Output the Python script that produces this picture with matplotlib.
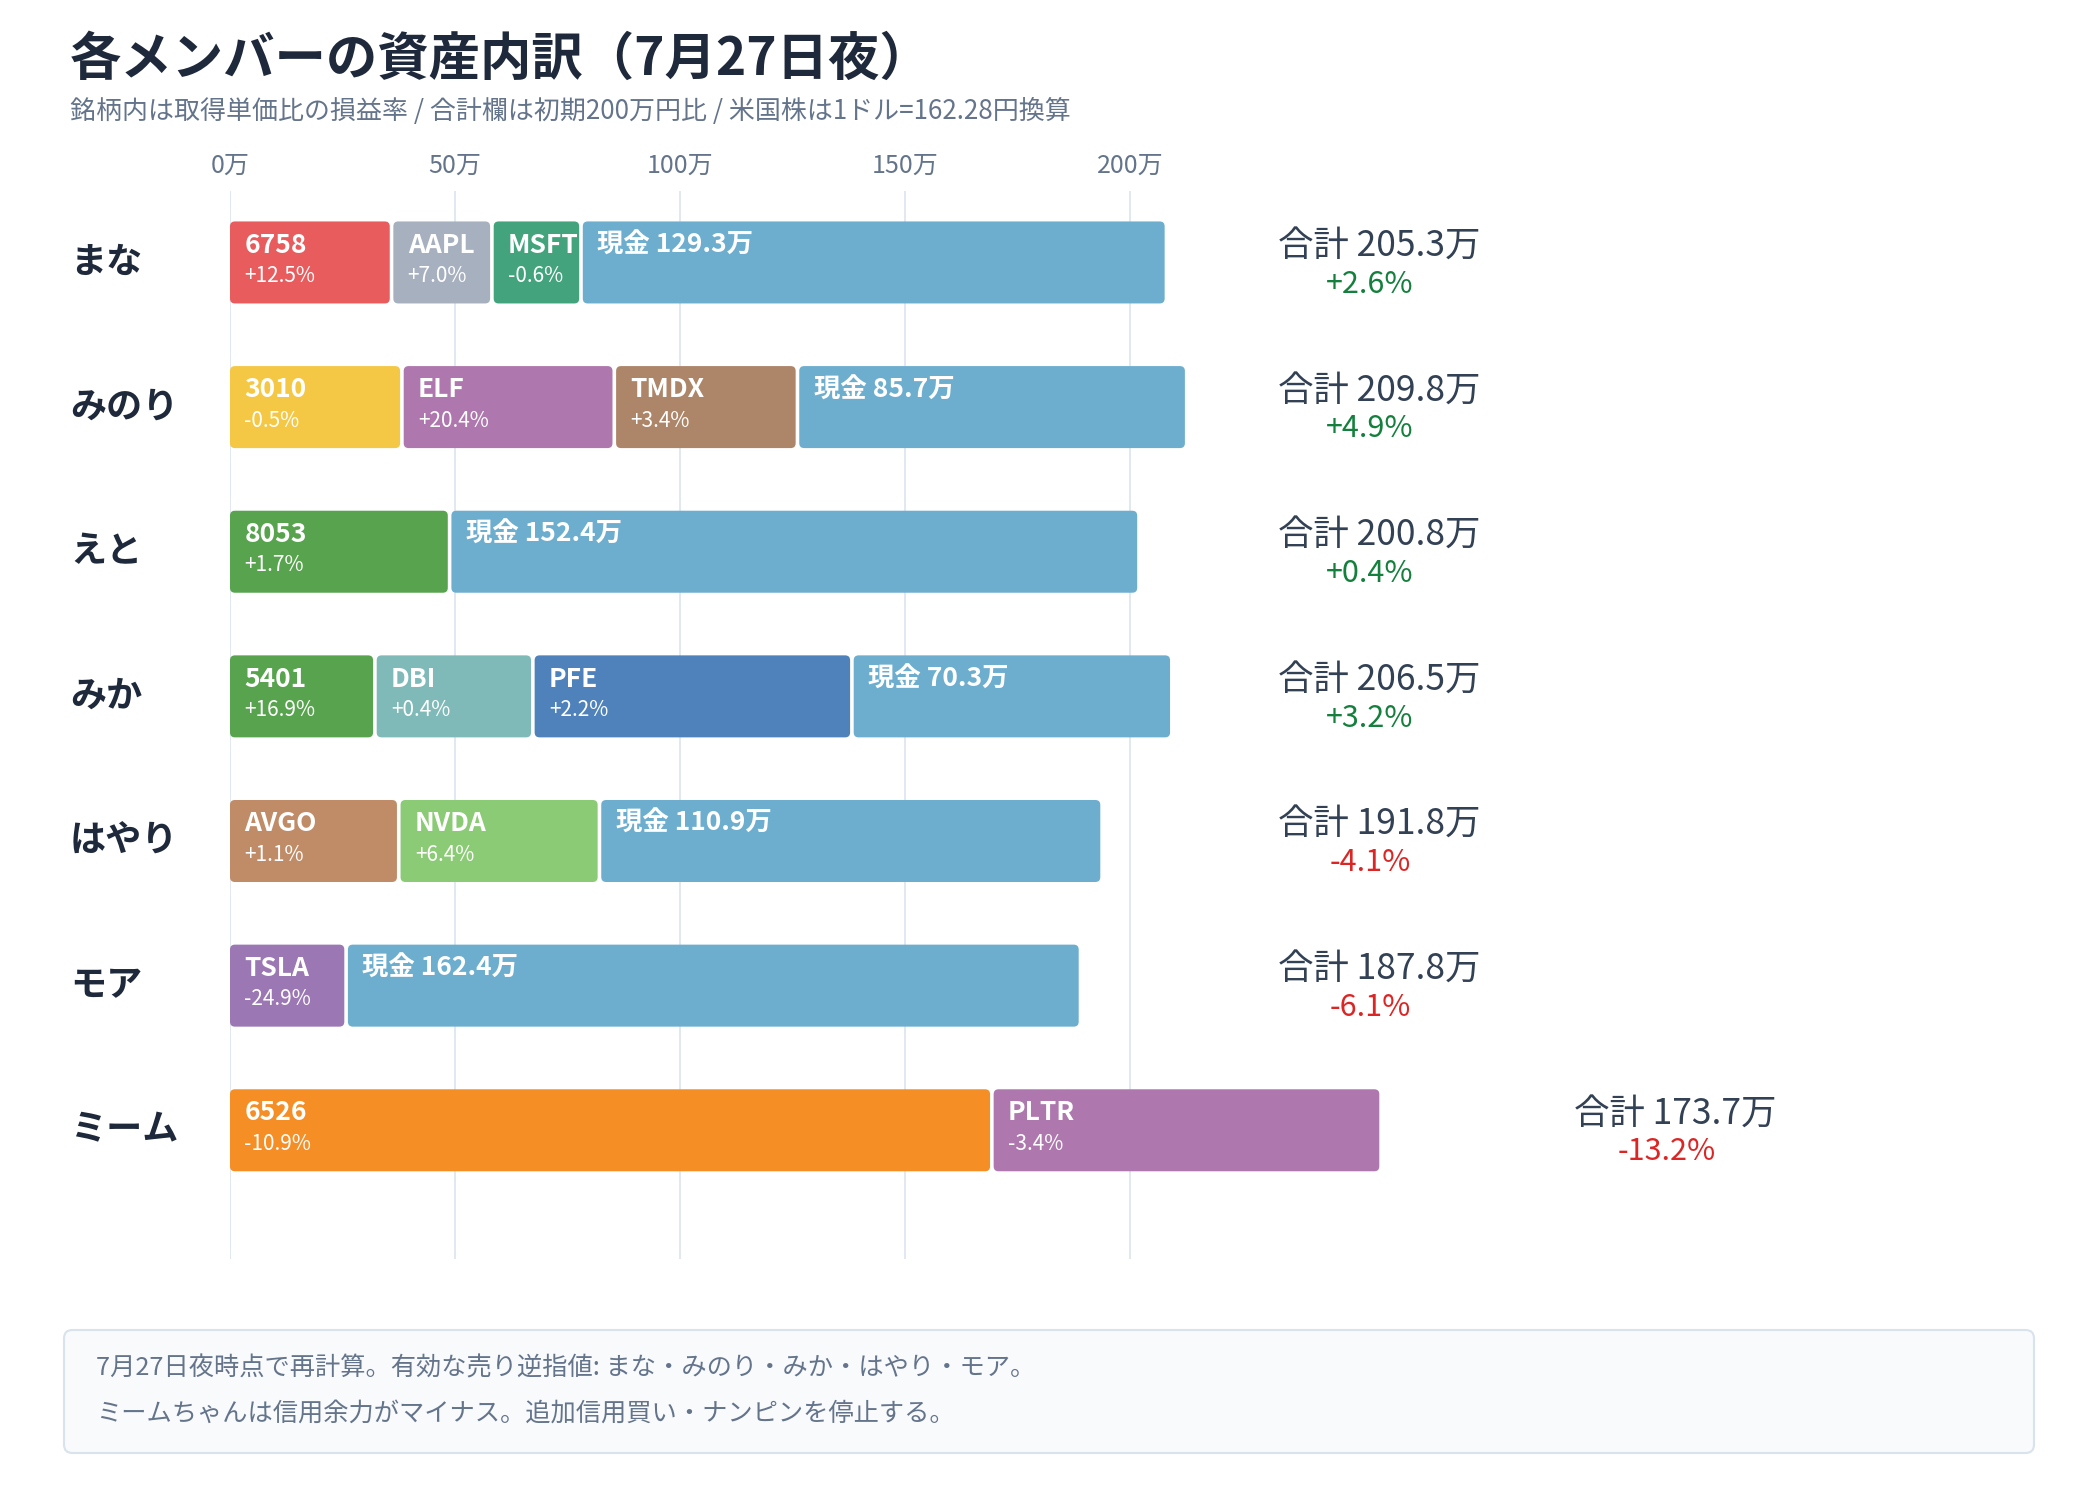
import matplotlib
matplotlib.use('Agg')
import matplotlib.pyplot as plt
import matplotlib.transforms as mtransforms
from matplotlib.patches import FancyBboxPatch

plt.rcParams['font.family'] = ['Noto Sans CJK JP', 'DejaVu Sans']

members = ['まな', 'みのり', 'えと', 'みか', 'はやり', 'モア', 'ミーム']
holdings = [
    ['6758', 'AAPL', 'MSFT', '現金'],
    ['3010', 'ELF', 'TMDX', '現金'],
    ['8053', '現金'],
    ['5401', 'DBI', 'PFE', '現金'],
    ['AVGO', 'NVDA', '現金'],
    ['TSLA', '現金'],
    ['6526', 'PLTR'],
]
# 万円
amounts = [
    [35.5, 21.5, 19.0, 129.3],
    [37.8, 46.4, 39.9, 85.7],
    [48.4, 152.4],
    [31.8, 34.3, 70.1, 70.3],
    [37.1, 43.8, 110.9],
    [25.4, 162.4],
    [168.9, 85.7],
]
returns = [
    ['+12.5%', '+7.0%', '-0.6%', None],
    ['-0.5%', '+20.4%', '+3.4%', None],
    ['+1.7%', None],
    ['+16.9%', '+0.4%', '+2.2%', None],
    ['+1.1%', '+6.4%', None],
    ['-24.9%', None],
    ['-10.9%', '-3.4%'],
]
totals = [205.3, 209.8, 200.8, 206.5, 191.8, 187.8, 173.7]
total_pct = ['+2.6%', '+4.9%', '+0.4%', '+3.2%', '-4.1%', '-6.1%', '-13.2%']
x_ticks = [0, 50, 100, 150, 200]

colors = {
    '6758': '#e85c5e', 'AAPL': '#a7b0bf', 'MSFT': '#42a37c',
    '3010': '#f4c844', 'ELF': '#ae78ae', 'TMDX': '#ad8568',
    '8053': '#58a44e', '5401': '#58a44e', 'DBI': '#7fbab8',
    'PFE': '#4f82bb', 'AVGO': '#c08c68', 'NVDA': '#8bcb76',
    'TSLA': '#9b77b3', '6526': '#f58e25', 'PLTR': '#ae78ae',
    '現金': '#6daecf',
}

W, H = 2100, 1510
fig = plt.figure(figsize=(W / 100, H / 100), dpi=100)
fig.patch.set_facecolor('white')

px_per_unit = 4.50
ax_left, ax_right = 230, 2034
ax_top, ax_bot = 191, 1259
ax = fig.add_axes([ax_left / W, 1 - ax_bot / H, (ax_right - ax_left) / W, (ax_bot - ax_top) / H])
ax.set_xlim(0, (ax_right - ax_left) / px_per_unit)
ax.set_ylim(6.89, -0.494)
for s in ax.spines.values():
    s.set_visible(False)
ax.set_xticks(x_ticks)
ax.set_xticklabels([f'{t}万' for t in x_ticks], fontsize=18, color='#64748b')
ax.tick_params(axis='x', top=True, bottom=False, labeltop=True, labelbottom=False, length=0, pad=9)
for lbl in ax.get_xticklabels():
    lbl.set_x(lbl.get_position()[0])
ax.set_yticks([])
ax.grid(axis='x', color='#e2e8f0', lw=1.4)
ax.set_axisbelow(True)

bar_h = 0.567
gap = 0.8
rx = 1.1
ry = 0.034
blend = mtransforms.blended_transform_factory(fig.transFigure, ax.transData)

for i, name in enumerate(members):
    ax.text(70 / W, i, name, transform=blend, fontsize=26, fontweight='bold',
            color='#1e293b', va='center', ha='left')
    x = 0
    for tk, v, r in zip(holdings[i], amounts[i], returns[i]):
        p = FancyBboxPatch((x, i - bar_h / 2), v, bar_h,
                           boxstyle=f'round,pad=0,rounding_size={rx}',
                           mutation_aspect=ry / rx,
                           fc=colors[tk], ec='none', zorder=2)
        ax.add_patch(p)
        label = f'現金 {v:.1f}万' if tk == '現金' else tk
        t1 = ax.text(x + 3.2, i - 0.12, label, fontsize=19, fontweight='bold',
                     color='white', va='center', ha='left', zorder=3)
        t1.set_clip_path(p)
        if r:
            t2 = ax.text(x + 3.2, i + 0.095, r, fontsize=15, color='white',
                         va='center', ha='left', zorder=3)
            t2.set_clip_path(p)
        x += v + gap
    bar_end = x
    tx = 255.3 if bar_end < 240 else bar_end + 65
    ax.text(tx, i - 0.11, f'合計 {totals[i]:.1f}万', fontsize=25.5, color='#334155',
            ha='center', va='center')
    pc = '#15803d' if total_pct[i].startswith('+') else '#dc2626'
    ax.text(tx - 2, i + 0.15, total_pct[i], fontsize=22, color=pc, ha='center', va='center')

fig.text(70 / W, 1 - 59 / H, '各メンバーの資産内訳（7月27日夜）', fontsize=37,
         fontweight='bold', color='#1e293b', va='center', ha='left')
fig.text(70 / W, 1 - 111 / H,
         '銘柄内は取得単価比の損益率 / 合計欄は初期200万円比 / 米国株は1ドル=162.28円換算',
         fontsize=18.7, color='#64748b', va='center', ha='left')

box = FancyBboxPatch((64 / W, 1 - 1453 / H), 1970 / W, 123 / H,
                     boxstyle='round,pad=0,rounding_size=0.004',
                     mutation_aspect=W / H, transform=fig.transFigure,
                     fc='#f8fafc', ec='#d9e3ee', lw=1.5)
fig.patches.append(box)
fig.text(96 / W, 1 - 1369 / H,
         '7月27日夜時点で再計算。有効な売り逆指値: まな・みのり・みか・はやり・モア。',
         fontsize=18.2, color='#64748b', va='center', ha='left')
fig.text(96 / W, 1 - 1414 / H,
         'ミームちゃんは信用余力がマイナス。追加信用買い・ナンピンを停止する。',
         fontsize=18.2, color='#64748b', va='center', ha='left')

fig.savefig('out.png', dpi=100)
